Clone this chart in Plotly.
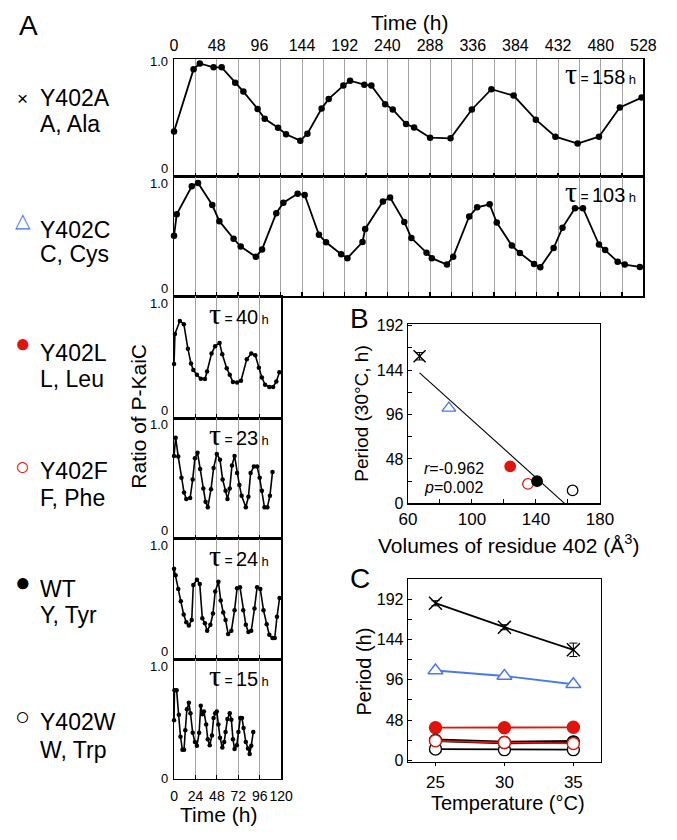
import plotly.graph_objects as go
import numpy as np

# ---------------- data ----------------
strains = ["Y402A", "Y402C", "Y402L", "Y402F", "WT", "Y402W"]
residues = ["A, Ala", "C, Cys", "L, Leu", "F, Phe", "Y, Tyr", "W, Trp"]
tau_h = [158, 103, 40, 23, 24, 15]

# Panel A time courses (time in h, ratio of P-KaiC)
t_Y402A = [0, 22, 29, 44.5, 53.6, 68.8, 78, 94, 102, 117, 126, 142, 150, 166, 174, 190.5, 198, 214,
           222, 237.5, 246, 261, 270, 288, 311, 335, 357, 382, 407, 429, 454, 478, 501.5, 526]
r_Y402A = [0.386, 0.915, 0.963, 0.93, 0.93, 0.80, 0.724, 0.577, 0.493, 0.417, 0.361, 0.307, 0.366,
           0.58, 0.662, 0.775, 0.817, 0.783, 0.775, 0.617, 0.572, 0.448, 0.42, 0.332, 0.327, 0.572,
           0.744, 0.69, 0.485, 0.341, 0.282, 0.341, 0.589, 0.673]

t_Y402C = [0, 3, 20, 27, 43, 51, 67, 75, 92, 99, 115, 123, 139, 147, 163, 171, 188, 195, 212, 215,
           235, 243, 259, 267, 284, 290, 307, 314, 332, 341, 355, 363, 380, 389, 405, 412, 427, 437,
           451, 460, 478, 485, 499, 507, 524]
r_Y402C = [0.507, 0.686, 0.921, 0.949, 0.764, 0.629, 0.482, 0.417, 0.331, 0.393, 0.696, 0.783,
           0.859, 0.848, 0.515, 0.453, 0.352, 0.320, 0.455, 0.564, 0.794, 0.827, 0.623, 0.488,
           0.366, 0.320, 0.266, 0.331, 0.669, 0.745, 0.770, 0.618, 0.425, 0.363, 0.271, 0.244,
           0.404, 0.575, 0.737, 0.737, 0.434, 0.388, 0.290, 0.266, 0.247]

t_Y402L = [0, 1, 6.5, 11, 15.5, 19, 21.6, 25.6, 30, 34.6, 37, 42, 46, 51, 54, 59, 62.4, 66, 70.6,
           75, 81.5, 86.5, 91, 95, 98.4, 102, 106.7, 111, 114.6, 118]
r_Y402L = [0.444, 0.691, 0.798, 0.772, 0.570, 0.449, 0.395, 0.355, 0.323, 0.320, 0.382, 0.530,
           0.591, 0.618, 0.524, 0.409, 0.355, 0.296, 0.293, 0.306, 0.484, 0.530, 0.516, 0.414,
           0.333, 0.274, 0.255, 0.255, 0.301, 0.376]

t_Y402F = [0, 1.8, 4.7, 8.3, 11.2, 13.7, 18, 20.9, 23.4, 26.3, 29.2, 32.8, 35.3, 37.8, 41.4, 44.3,
           47.9, 51.5, 54.4, 57.7, 59.8, 62.4, 64.9, 67.8, 70.6, 73.2, 75.7, 80.4, 83.3, 85.8, 89.4,
           93, 95.9, 98.4, 101.3, 104.5, 107.4, 110.3]
r_Y402F = [0.686, 0.837, 0.680, 0.504, 0.382, 0.328, 0.336, 0.491, 0.667, 0.713, 0.577, 0.415,
           0.306, 0.260, 0.409, 0.585, 0.702, 0.653, 0.491, 0.396, 0.328, 0.415, 0.607, 0.686,
           0.545, 0.444, 0.355, 0.260, 0.347, 0.545, 0.599, 0.599, 0.504, 0.396, 0.260, 0.260,
           0.355, 0.553]

t_WT = [0, 1.8, 4.7, 7.6, 10.8, 13.7, 16.6, 19.8, 21.6, 25.6, 28.8, 31.7, 34.6, 37.1, 40.7, 43.6,
        46.1, 49.7, 52.3, 55.1, 57.7, 60.6, 64.2, 67.8, 70.6, 73.9, 77.5, 80.4, 83.3, 86.5, 90.1,
        93, 96.6, 100.2, 103.8, 106.7, 110.3, 112.8, 115.3, 118.2]
r_WT = [0.751, 0.696, 0.583, 0.480, 0.371, 0.306, 0.279, 0.325, 0.615, 0.659, 0.623, 0.339, 0.298,
        0.236, 0.285, 0.379, 0.561, 0.642, 0.488, 0.388, 0.325, 0.209, 0.236, 0.407, 0.588, 0.596,
        0.407, 0.285, 0.225, 0.236, 0.420, 0.596, 0.583, 0.407, 0.290, 0.203, 0.176, 0.176, 0.352,
        0.507]

t_Y402W = [0, 0.5, 2.9, 5.4, 7.2, 9.4, 11.2, 12.6, 14.4, 16.6, 18.4, 20.9, 23.4, 25.6, 28.1, 29.9,
           31.7, 33.5, 36, 37.8, 40, 42.5, 44.3, 46.1, 47.9, 49.7, 51.5, 54.1, 56.2, 57.7, 59.8,
           62.4, 64.2, 66, 67.8, 70.3, 72.1, 74.2, 76.1, 77.9, 80.4, 82.9, 84.7, 86.5, 88.7]
r_Y402W = [0.489, 0.740, 0.740, 0.536, 0.352, 0.243, 0.243, 0.407, 0.582, 0.637, 0.549, 0.385,
           0.309, 0.276, 0.385, 0.612, 0.541, 0.563, 0.454, 0.331, 0.281, 0.363, 0.508, 0.549,
           0.563, 0.454, 0.344, 0.262, 0.309, 0.391, 0.500, 0.549, 0.495, 0.331, 0.249, 0.281,
           0.391, 0.508, 0.508, 0.426, 0.309, 0.254, 0.208, 0.276, 0.391]

times = [t_Y402A, t_Y402C, t_Y402L, t_Y402F, t_WT, t_Y402W]
ratios = [r_Y402A, r_Y402C, r_Y402L, r_Y402F, r_WT, r_Y402W]

# Panel B: residue volume vs period at 30 C
volume_402 = [67.3, 85.6, 123.9, 135.0, 140.7, 162.9]
period_30C = [159, 103, 40, 21, 24, 14]
period_30C_err = [4, 0, 0, 0, 0, 0]
r_text = "-0.962"
p_text = "0.002"

# Panel C: temperature dependence
temperature = [25, 30, 35]
period_Y402A = [187, 158.5, 131.6]
period_Y402A_err = [3, 3, 8]
period_Y402C = [107, 100.5, 90.7]
period_Y402L = [39, 39, 39.5]
period_Y402F = [23.4, 21.4, 20.3]
period_WT = [24, 21.4, 22.2]
period_Y402W = [13.6, 12.9, 12.9]
periods_C = [period_Y402A, period_Y402C, period_Y402L, period_Y402F, period_WT, period_Y402W]

# ---------------- styling ----------------
PAGE_W, PAGE_H = 677, 840
BODY = 8                      # default page margin of the browser
W, H = PAGE_W - 2 * BODY, PAGE_H - 2 * BODY
FONT = "Liberation Sans, Arial, Helvetica, sans-serif"
SERIF = "Liberation Serif, DejaVu Serif, serif"
BLUE = "#4a78f0"
RED = "#e0140c"
GRID = "#a3a3a3"


def fx(px):
    return (px - BODY) / W


def fy(py):
    return 1 - (py - BODY) / H


def xn(i):
    return "x" if i == 1 else f"x{i}"


def yn(i):
    return "y" if i == 1 else f"y{i}"


def xk(i):
    return "xaxis" if i == 1 else f"xaxis{i}"


def yk(i):
    return "yaxis" if i == 1 else f"yaxis{i}"


# (symbol, fill colour, outline colour)
sym = {"Y402A": ("x-thin-open", "black", "black"),
       "Y402C": ("triangle-up", "white", BLUE),
       "Y402L": ("circle", RED, RED),
       "Y402F": ("circle", "white", RED),
       "WT": ("circle", "black", "black"),
       "Y402W": ("circle", "white", "black")}
line_col = {"Y402A": "black", "Y402C": BLUE, "Y402L": RED, "Y402F": RED, "WT": "black",
            "Y402W": "black"}

tops = [53, 173, 295, 419, 542, 665]
bots = [173, 295, 419, 542, 665, 787]
xmax = [528, 528, 120, 120, 120, 120]
xright = [657, 657, 281.7, 281.7, 281.7, 281.7]
XL = 170.7

fig = go.Figure()
layout = dict(width=W, height=H, margin=dict(l=0, r=0, t=0, b=0),
              paper_bgcolor="white", plot_bgcolor="white", showlegend=False,
              font=dict(family=FONT, color="black"))
annotations = []

for k in range(6):
    i = k + 1
    big = k < 2
    fig.add_trace(go.Scatter(x=times[k], y=ratios[k], xaxis=xn(i), yaxis=yn(i),
                             mode="lines+markers", cliponaxis=False,
                             line=dict(color="black", width=1.8 if big else 1.6),
                             marker=dict(color="black", size=6.5 if big else 4.5),
                             hoverinfo="skip"))
    tv = list(range(0, xmax[k] + 1, 24))
    layout[xk(i)] = dict(domain=[fx(XL), fx(xright[k])], range=[0, xmax[k]], anchor=yn(i),
                         showline=True, linecolor="black", linewidth=1.5, mirror=True,
                         ticks="inside", ticklen=4, tickwidth=1.2, tickcolor="black",
                         tickvals=tv, showgrid=True, gridcolor=GRID, gridwidth=1,
                         zeroline=False, showticklabels=(k == 5), tickangle=0,
                         tickfont=dict(size=14), ticklabelstandoff=4)
    layout[yk(i)] = dict(domain=[fy(bots[k]), fy(tops[k])], range=[0, 1], anchor=xn(i),
                         showline=True, linecolor="black", linewidth=1.5, mirror=True,
                         ticks="", showticklabels=False, showgrid=False, zeroline=False)
    # y labels 1.0 / 0
    y1 = tops[k] + (2 if k == 0 else 7)
    y0 = bots[k] - (0 if k == 5 else 8)
    annotations.append(dict(text="1.0", x=fx(166), y=fy(y1), xref="paper", yref="paper",
                            xanchor="right", yanchor="middle", showarrow=False,
                            font=dict(size=13)))
    annotations.append(dict(text="0", x=fx(166), y=fy(y0), xref="paper", yref="paper",
                            xanchor="right", yanchor="middle", showarrow=False,
                            font=dict(size=13)))
    # tau
    tau_txt = (f"<span style='font-size:30px;font-family:{SERIF}'>τ</span> "
               "<span style='font-size:14px'>=</span> "
               f"<span style='font-size:20px'>{tau_h[k]}</span> "
               "<span style='font-size:13px'>h</span>")
    if big:
        annotations.append(dict(text=tau_txt, x=fx(651), y=fy(tops[k] + 15), xref="paper",
                                yref="paper", xanchor="right", yanchor="middle",
                                showarrow=False))
    else:
        annotations.append(dict(text=tau_txt, x=fx(238), y=fy(tops[k] + 17), xref="paper",
                                yref="paper", xanchor="center", yanchor="middle",
                                showarrow=False))
    # left label column
    s = strains[k]
    name_y = [93, 227, 353, 473, 593, 729][k]
    res_y = [119, 252, 379, 501, 620, 758][k]
    mk_y = [93, 217, 343, 468, 586, 723][k]
    glyph = {"Y402A": ("×", "black", 19), "Y402C": ("△", BLUE, 20), "Y402L": ("●", RED, 26),
             "Y402F": ("○", RED, 25), "WT": ("●", "black", 26), "Y402W": ("○", "black", 25)}[s]
    annotations.append(dict(text=glyph[0], x=fx(14), y=fy(mk_y), xref="paper", yref="paper",
                            xanchor="center", yanchor="middle", showarrow=False,
                            font=dict(size=glyph[2], color=glyph[1])))
    annotations.append(dict(text=s, x=fx(30), y=fy(name_y), xref="paper", yref="paper",
                            xanchor="left", yanchor="middle", showarrow=False,
                            font=dict(size=23)))
    annotations.append(dict(text=residues[k], x=fx(30), y=fy(res_y), xref="paper", yref="paper",
                            xanchor="left", yanchor="middle", showarrow=False,
                            font=dict(size=23)))

# top time axis labels (overlay)
fig.add_trace(go.Scatter(x=[0], y=[0], xaxis="x7", yaxis="y", mode="markers",
                         marker=dict(opacity=0), hoverinfo="skip"))
layout["xaxis7"] = dict(overlaying="x", side="top", anchor="y", range=[0, 528],
                        tickvals=list(range(0, 529, 48)), ticks="", showline=False,
                        showgrid=False, zeroline=False, tickfont=dict(size=16),
                        ticklabelstandoff=4, tickangle=0)

# ---------------- Panel B ----------------
for k, s in enumerate(strains):
    sy, fill, lc = sym[s]
    if sy.startswith("x"):
        mk = dict(symbol=sy, size=12, color="black", line=dict(color="black", width=1.5))
    else:
        mk = dict(symbol=sy, color=fill, size=12 if "triangle" in sy else 10.5,
                  line=dict(color=lc, width=1.3))
    fig.add_trace(go.Scatter(
        x=[volume_402[k]], y=[period_30C[k]], xaxis="x8", yaxis="y8", mode="markers",
        cliponaxis=False, marker=mk,
        error_y=dict(type="data", array=[period_30C_err[k]], color="black", thickness=1,
                     width=4, visible=period_30C_err[k] > 0),
        hoverinfo="skip"))
coef = np.polyfit(volume_402, period_30C, 1)
fit_x = np.array([min(volume_402), -coef[1] / coef[0]])
fig.add_trace(go.Scatter(x=fit_x, y=np.polyval(coef, fit_x), xaxis="x8", yaxis="y8",
                         mode="lines", line=dict(color="black", width=1.1), hoverinfo="skip"))

yt = list(range(0, 193, 24))
ytt = [str(v) if v % 48 == 0 else "" for v in yt]
layout["xaxis8"] = dict(domain=[fx(413), fx(612)], range=[60, 180], anchor="y8",
                        tickvals=list(range(60, 181, 20)),
                        ticktext=["60", "", "100", "", "140", "", "180"],
                        ticks="inside", ticklen=4, tickcolor="black", showline=True,
                        linecolor="black", linewidth=1.2, mirror=True, showgrid=False,
                        zeroline=False, tickfont=dict(size=17), tickangle=0)
layout["yaxis8"] = dict(domain=[fy(506), fy(323)], range=[0, 194], anchor="x8",
                        tickvals=yt, ticktext=ytt, ticks="inside", ticklen=4, tickcolor="black",
                        showline=True, linecolor="black", linewidth=1.2, mirror=True,
                        showgrid=False, zeroline=False, tickfont=dict(size=16))

annotations += [
    dict(text="B", x=fx(351), y=fy(318), xref="paper", yref="paper", xanchor="left",
         yanchor="middle", showarrow=False, font=dict(size=28)),
    dict(text="Period (30°C, h)", x=fx(364), y=fy(415), xref="paper", yref="paper",
         textangle=-90, xanchor="center", yanchor="middle", showarrow=False,
         font=dict(size=19)),
    dict(text="Volumes of residue 402 (Å<sup>3</sup>)", x=fx(517), y=fy(547), xref="paper",
         yref="paper", xanchor="center", yanchor="middle", showarrow=False,
         font=dict(size=21)),
    dict(text=f"<i>r</i>={r_text}", x=fx(428), y=fy(470), xref="paper", yref="paper",
         xanchor="left", yanchor="middle", showarrow=False, font=dict(size=16)),
    dict(text=f"<i>p</i>={p_text}", x=fx(428), y=fy(490), xref="paper", yref="paper",
         xanchor="left", yanchor="middle", showarrow=False, font=dict(size=16)),
]

# ---------------- Panel C ----------------
order_C = [0, 1, 2, 5, 4, 3]
for k in order_C:
    s = strains[k]
    sy, fill, lc = sym[s]
    err = period_Y402A_err if s == "Y402A" else None
    if sy.startswith("x"):
        mk = dict(symbol=sy, size=13, color="black", line=dict(color="black", width=1.5))
    else:
        mk = dict(symbol=sy, color=fill, size=13 if "triangle" in sy else 12,
                  line=dict(color=lc, width=1.4))
    fig.add_trace(go.Scatter(
        x=temperature, y=periods_C[k], xaxis="x9", yaxis="y9", mode="lines+markers",
        cliponaxis=False,
        line=dict(color=line_col[s], width=3.5 if s == "WT" else 1.8),
        marker=mk,
        error_y=dict(type="data", array=err, color="black", thickness=1, width=4,
                     visible=err is not None),
        hoverinfo="skip"))

layout["xaxis9"] = dict(domain=[fx(413), fx(613)], range=[23, 37], anchor="y9",
                        tickvals=temperature, ticks="outside", ticklen=3, tickcolor="black",
                        showline=True, linecolor="black", linewidth=1.2, mirror=True,
                        showgrid=False, zeroline=False, tickfont=dict(size=17), tickangle=0,
                        ticklabelstandoff=1)
layout["yaxis9"] = dict(domain=[fy(770), fy(583)], range=[-2, 216], anchor="x9",
                        tickvals=yt, ticktext=ytt, ticks="inside", ticklen=4, tickcolor="black",
                        showline=True, linecolor="black", linewidth=1.2, mirror=True,
                        showgrid=False, zeroline=False, tickfont=dict(size=16))

annotations += [
    dict(text="C", x=fx(351), y=fy(583), xref="paper", yref="paper", xanchor="left",
         yanchor="middle", showarrow=False, font=dict(size=28)),
    dict(text="Period (h)", x=fx(368), y=fy(677), xref="paper", yref="paper",
         textangle=-90, xanchor="center", yanchor="middle", showarrow=False,
         font=dict(size=20)),
    dict(text="Temperature (°C)", x=fx(517), y=fy(812), xref="paper", yref="paper",
         xanchor="center", yanchor="middle", showarrow=False, font=dict(size=20)),
]

# ---------------- Panel A texts ----------------
annotations += [
    dict(text="A", x=fx(8), y=fy(19), xref="paper", yref="paper", xanchor="left",
         yanchor="middle", showarrow=False, font=dict(size=28)),
    dict(text="Time (h)", x=fx(415), y=fy(16), xref="paper", yref="paper",
         xanchor="center", yanchor="middle", showarrow=False, font=dict(size=21)),
    dict(text="Time (h)", x=fx(217), y=fy(823), xref="paper", yref="paper",
         xanchor="center", yanchor="middle", showarrow=False, font=dict(size=21)),
    dict(text="Ratio of P-KaiC", x=fx(133), y=fy(417), xref="paper", yref="paper",
         textangle=-90, xanchor="center", yanchor="middle", showarrow=False,
         font=dict(size=21)),
]

layout["annotations"] = annotations
fig.update_layout(**layout)
fig.write_html("out.html", config={"displayModeBar": False, "staticPlot": True})
